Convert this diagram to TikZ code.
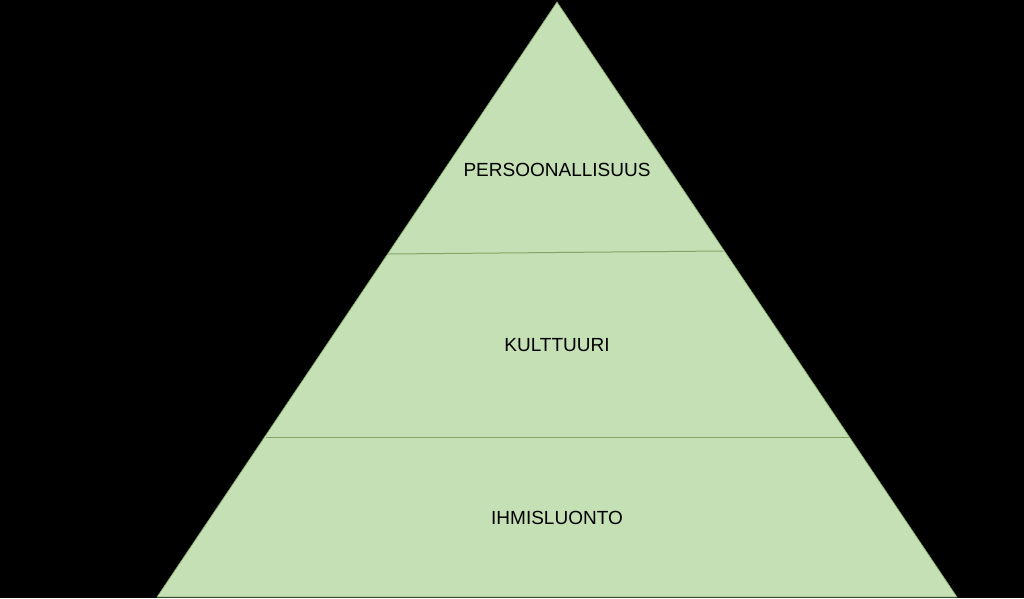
\documentclass[tikz,border=0pt]{standalone}
\usepackage{fontspec}
\setmainfont{Liberation Sans}
\usepackage{tikz}
\usetikzlibrary{positioning}
\definecolor{pyramidgreen}{HTML}{C5E0B4}
\definecolor{layerline}{HTML}{82A667}

\begin{document}
\begin{tikzpicture}[x=1pt,y=-1pt]
	\tikzstyle{layer} = [font=\fontsize{19}{23}\selectfont, text=black, inner sep=0pt]
	\tikzstyle{divider} = [draw=layerline, line width=1pt]
	
	\fill [black] (0,0) rectangle (1024,598);
	\useasboundingbox (0,0) rectangle (1024,598);
	
	\node [coordinate] (apex) at (557,2) {};
	\node [coordinate] (baseL) at (157,597) {};
	\node [coordinate] (baseR) at (957,597) {};
	
	\node [coordinate] (c1) at (388,254) {};
	\node [coordinate] (c2) at (723,251) {};
	\node [coordinate] (c3) at (266,437) {};
	\node [coordinate] (c4) at (849,437) {};
	
	\draw [fill=pyramidgreen, draw=layerline, line width=0.6pt] (apex) -- (baseL) -- (baseR) -- cycle;
	\draw [divider] (c1) -- (c2);
	\draw [divider] (c3) -- (c4);
	
	\node [layer] (persoona) at (557,170) {PERSOONALLISUUS};
	\node [layer] (kulttuuri) at (557,345) {KULTTUURI};
	\node [layer] (luonto) at (557,517.5) {IHMISLUONTO};
\end{tikzpicture}
\end{document}
